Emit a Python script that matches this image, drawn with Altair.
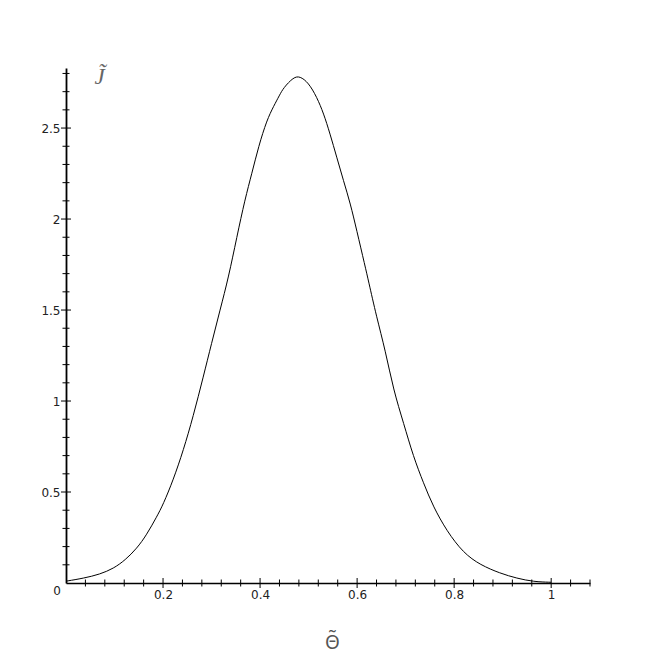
import altair as alt
import pandas as pd

# Curve
theta = [0.0, 0.036, 0.07, 0.098, 0.122, 0.146, 0.166, 0.187, 0.2, 0.221, 0.242, 0.262,
         0.283, 0.3, 0.3175, 0.335, 0.352, 0.369, 0.383, 0.397, 0.414, 0.428, 0.44, 0.448,
         0.469, 0.482, 0.4996, 0.517, 0.531, 0.544, 0.558, 0.572, 0.586, 0.599, 0.6165,
         0.623, 0.64, 0.658, 0.675, 0.696, 0.716, 0.737, 0.757, 0.785, 0.819, 0.854,
         0.895, 0.929, 0.964, 1.0]
J = [0.01, 0.026, 0.048, 0.08, 0.126, 0.19, 0.264, 0.364, 0.43, 0.566, 0.73, 0.914,
     1.133, 1.317, 1.5, 1.68, 1.9, 2.11, 2.25, 2.40, 2.544, 2.62, 2.68, 2.72,
     2.78, 2.785, 2.75, 2.67, 2.58, 2.47, 2.34, 2.21, 2.086, 1.94, 1.74,
     1.665, 1.463, 1.28, 1.06, 0.877, 0.694, 0.548, 0.419, 0.285, 0.165, 0.099,
     0.053, 0.026, 0.007, 0.004]

x_major = [0.2, 0.4, 0.6, 0.8, 1.0]
x_minor = [0.04, 0.08, 0.12, 0.16, 0.24, 0.28, 0.32, 0.36, 0.44, 0.48, 0.52, 0.56,
           0.64, 0.68, 0.72, 0.76, 0.84, 0.88, 0.92, 0.96, 1.04, 1.08]
y_major = [0.5, 1.0, 1.5, 2.0, 2.5]
y_minor = [0.1, 0.2, 0.3, 0.4, 0.6, 0.7, 0.8, 0.9, 1.1, 1.2, 1.3, 1.4, 1.6, 1.7, 1.8,
           1.9, 2.1, 2.2, 2.3, 2.4, 2.6, 2.7, 2.8]
x_domain = [0, 1.08]
y_domain = [0, 2.83]

W, H = 524, 515
LABEL_FONT = "DejaVu Sans"

curve = pd.DataFrame({"theta": theta, "J": J})

xs = alt.Scale(domain=x_domain, nice=False, zero=False)
ys = alt.Scale(domain=y_domain, nice=False, zero=False)

x_axis = alt.Axis(values=x_major, labelExpr="'' + datum.value", ticks=False,
                  domainColor="black", domainWidth=1.5, grid=False,
                  labelFont=LABEL_FONT, labelFontSize=12, labelColor="#222",
                  labelPadding=6,
                  title="\u0398\u0303", titleFont="Noto Sans", titleFontSize=19,
                  titleFontWeight="normal", titleColor="#555",
                  titleBaseline="alphabetic", titleX=266, titleY=65)
y_axis = alt.Axis(values=y_major, labelExpr="'' + datum.value", ticks=False,
                  domainColor="black", domainWidth=1.8, grid=False,
                  labelFont=LABEL_FONT, labelFontSize=12, labelColor="#222",
                  labelPadding=6,
                  title="J\u0303", titleFont="Liberation Serif", titleFontSize=23,
                  titleFontStyle="italic", titleFontWeight="normal", titleColor="#666",
                  titleAngle=0, titleAlign="center", titleBaseline="alphabetic",
                  titleX=33, titleY=15)

line = alt.Chart(curve).mark_line(color="black", strokeWidth=1, interpolate="basis").encode(
    x=alt.X("theta:Q", scale=xs, axis=x_axis),
    y=alt.Y("J:Q", scale=ys, axis=y_axis),
)


def xticks(vals, half):
    return alt.Chart(pd.DataFrame({"theta": vals})).mark_rule(color="black", strokeWidth=1).encode(
        x=alt.X("theta:Q", scale=xs, axis=x_axis),
        y=alt.value(H - half), y2=alt.value(H + half))


def yticks(vals, half):
    return alt.Chart(pd.DataFrame({"J": vals})).mark_rule(color="black", strokeWidth=1).encode(
        y=alt.Y("J:Q", scale=ys, axis=y_axis),
        x=alt.value(-half), x2=alt.value(half))


origin = alt.Chart(pd.DataFrame({"theta": [0.0], "J": [0.0], "lab": ["0"]})).mark_text(
    font=LABEL_FONT, fontSize=12, color="#222", dx=-9, dy=8, align="center", baseline="middle"
).encode(x=alt.X("theta:Q", scale=xs, axis=x_axis),
         y=alt.Y("J:Q", scale=ys, axis=y_axis), text="lab:N")

chart = alt.layer(
    line, xticks(x_major, 5), xticks(x_minor, 3.5), yticks(y_major, 5), yticks(y_minor, 3.5), origin
).properties(
    width=W, height=H, autosize="none",
    padding={"left": 58, "top": 60, "right": 50, "bottom": 72},
    background="white",
).configure_view(stroke=None)

chart.save("out.html", embed_options={"renderer": "svg", "actions": False})
